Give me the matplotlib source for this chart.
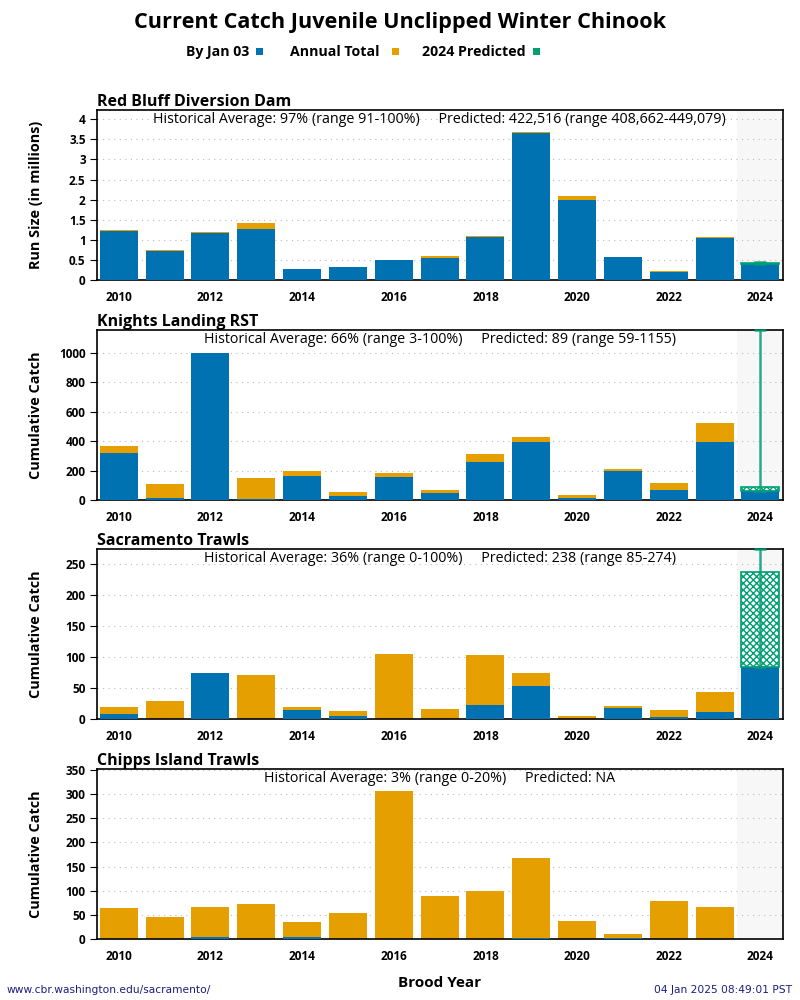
import numpy as np
import matplotlib
matplotlib.use('Agg')
import matplotlib.pyplot as plt
from matplotlib.patches import Rectangle

plt.rcParams['font.family'] = ['Open Sans', 'DejaVu Sans']

# colours
BLUE = '#0072B2'
ORANGE = '#E69F00'
GREEN = '#009E73'

years = list(range(2010, 2025))

# Red Bluff Diversion Dam (millions)
rbdd_jan03 = [1.22, 0.72, 1.17, 1.27, 0.28, 0.33, 0.50, 0.55, 1.07, 3.66, 2.00, 0.58, 0.21, 1.06, 0.409]
rbdd_total = [1.25, 0.75, 1.20, 1.41, 0.28, 0.33, 0.50, 0.61, 1.10, 3.68, 2.09, 0.58, 0.23, 1.08]
rbdd_pred = [0.4225, 0.4087, 0.4491]

# Knights Landing RST
klrst_jan03 = [318, 14, 1002, 7, 165, 27, 156, 47, 257, 393, 14, 196, 68, 393, 59]
klrst_total = [365, 108, 1002, 149, 196, 54, 183, 68, 311, 427, 34, 210, 115, 521]
klrst_pred = [89, 59, 1155]

# Sacramento Trawls
sac_jan03 = [9, 0, 75, 0, 15, 6, 0, 0, 23, 54, 0, 19, 4, 12, 85]
sac_total = [20, 30, 75, 71, 20, 13, 105, 17, 104, 75, 5, 21, 15, 44]
sac_pred = [238, 85, 274]

# Chipps Island Trawls
chipps_jan03 = [0, 0, 4, 0, 4, 0, 0, 0, 0, 2, 0, 2, 0, 0, 0]
chipps_total = [65, 46, 67, 73, 36, 55, 306, 90, 100, 168, 38, 11, 79, 67]
chipps_pred = None

titles = ['Red Bluff Diversion Dam', 'Knights Landing RST', 'Sacramento Trawls', 'Chipps Island Trawls']
notes = ['Historical Average: 97% (range 91-100%)     Predicted: 422,516 (range 408,662-449,079)',
         'Historical Average: 66% (range 3-100%)     Predicted: 89 (range 59-1155)',
         'Historical Average: 36% (range 0-100%)     Predicted: 238 (range 85-274)',
         'Historical Average: 3% (range 0-20%)     Predicted: NA']
ylabels = ['Run Size (in millions)', 'Cumulative Catch', 'Cumulative Catch', 'Cumulative Catch']
yticks = [[0, 0.5, 1, 1.5, 2, 2.5, 3, 3.5, 4],
          list(range(0, 1001, 200)),
          list(range(0, 251, 50)),
          list(range(0, 351, 50))]
ytop = [4.22, 1155, 274, 351]

jan03_all = [rbdd_jan03, klrst_jan03, sac_jan03, chipps_jan03]
total_all = [rbdd_total, klrst_total, sac_total, chipps_total]
pred_all = [rbdd_pred, klrst_pred, sac_pred, chipps_pred]

fig = plt.figure(figsize=(8, 10), dpi=100)

fig.text(0.5, 0.972, 'Current Catch Juvenile Unclipped Winter Chinook',
         ha='center', va='baseline', fontsize=15.6, fontweight='bold')

# legend row: label, text start, square centre (figure fraction)
leg = [('By Jan 03', 0.2325, 0.324, BLUE),
       ('Annual Total', 0.3625, 0.494, ORANGE),
       ('2024 Predicted', 0.5275, 0.671, GREEN)]
for lab, xt, xs, col in leg:
    fig.text(xt, 0.944, lab, ha='left', va='baseline', fontsize=10.2, fontweight='bold')
    fig.add_artist(Rectangle((xs - 0.0042, 0.9455), 0.0084, 0.0068,
                             transform=fig.transFigure, color=col, lw=0))

bottoms = [0.7197, 0.5000, 0.2807, 0.0607]
width = 0.83

for i in range(4):
    ax = fig.add_axes([0.121, bottoms[i], 0.8575, 0.17])
    ax.set_xlim(2009.52, 2024.49)
    ax.set_ylim(0, ytop[i])
    ax.axvspan(2023.5, 2024.49, color='#f7f7f7', zorder=0, lw=0)
    ax.set_axisbelow(True)
    ax.yaxis.grid(True, linestyle=(0, (1, 4)), color='#bbbbbb', linewidth=0.8)

    ax.bar(years[:-1], total_all[i], width=width, color=ORANGE, zorder=2)
    ax.bar(years, jan03_all[i], width=width, color=BLUE, zorder=3)

    p = pred_all[i]
    if p is not None:
        cur = jan03_all[i][-1]
        ax.bar(2024, p[0] - cur, bottom=cur, width=width, facecolor='white',
               edgecolor=GREEN, hatch='xxxxx', linewidth=1.2, zorder=4)
        ax.errorbar(2024, p[0], yerr=[[p[0] - p[1]], [p[2] - p[0]]], fmt='none',
                    ecolor=GREEN, elinewidth=1.8, capsize=4.5, capthick=1.8,
                    alpha=0.85, zorder=5, clip_on=False)

    ax.set_yticks(yticks[i])
    ax.set_yticklabels([('%g' % v) for v in yticks[i]], fontweight='bold', fontsize=8.5)
    ax.set_xticks(range(2010, 2025, 2))
    ax.set_xticklabels([str(y) for y in range(2010, 2025, 2)], fontweight='bold', fontsize=8.5)
    ax.tick_params(axis='x', length=0, pad=8)
    ax.tick_params(axis='y', length=5, width=0.8, pad=3)
    for s in ax.spines.values():
        s.set_linewidth(1.2)

    ax.set_ylabel(ylabels[i], fontsize=10.4, fontweight='bold')
    ax.yaxis.set_label_coords(-0.078, 0.5)
    ax.set_title(titles[i], loc='left', fontsize=11.5, fontweight='bold', pad=2)
    ax.text(0.5, 0.99, notes[i], transform=ax.transAxes, ha='center', va='top',
            fontsize=10.25, zorder=6)

fig.text(0.55, 0.017, 'Brood Year', ha='center', va='center', fontsize=11, fontweight='bold')
fig.text(0.008, 0.010, 'www.cbr.washington.edu/sacramento/', ha='left', va='center',
         fontsize=7.7, color='#1c1c80', family='DejaVu Sans')
fig.text(0.99, 0.010, '04 Jan 2025 08:49:01 PST', ha='right', va='center',
         fontsize=7.7, color='#1c1c80', family='DejaVu Sans')

fig.savefig('out.png', dpi=100)
